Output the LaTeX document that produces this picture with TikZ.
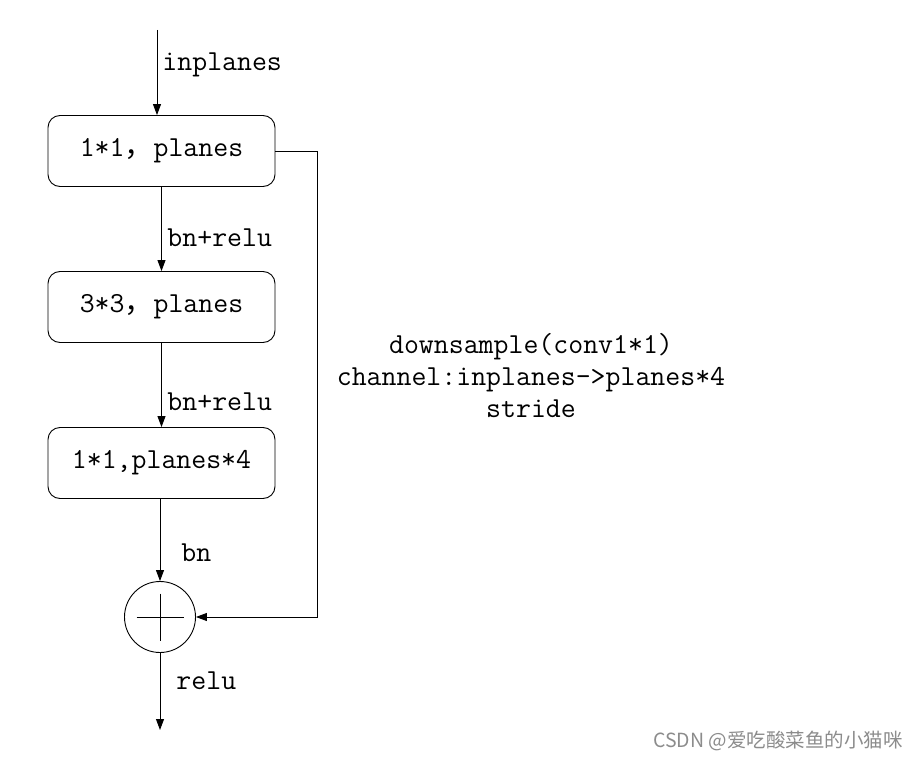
\documentclass[tikz,border=0pt]{standalone}
\usepackage{fontspec}
\newfontfamily\cjk{Noto Sans CJK SC}
\usetikzlibrary{arrows.meta}
\tikzset{
  block/.style={draw, rounded corners=12pt, minimum width=227pt, minimum height=71pt,
    inner sep=0pt, font=\fontsize{29}{32}\selectfont\ttfamily},
  lbl/.style={anchor=west, inner sep=0pt, font=\fontsize{29}{32}\selectfont\ttfamily},
  flow/.style={-{Triangle[length=11pt,width=8pt]}}
}

\begin{document}
\begin{tikzpicture}[x=1pt, y=-1pt, line width=0.9pt]
                \useasboundingbox (0,0) rectangle (919,760);

                % Blocks of the bottleneck
                \node[block] (conv1) at (161.5,151) {1*1{\cjk ，}planes};
                \node[block] (conv2) at (161.5,307) {3*3{\cjk ，}planes};
                \node[block] (conv3) at (161.5,463) {1*1,planes*4};

                % Sum node
                \node[draw, circle, minimum size=71pt, inner sep=0pt] (sum) at (160,617) {};
                \draw (sum.center) +(-23.5,0) -- +(23.5,0);
                \draw (sum.center) +(0,-23.5) -- +(0,23.5);

                % Input and output ends
                \coordinate (in) at (157,30);
                \coordinate (out) at (160,730);

                % Main path
                \draw[flow] (in) -- (in |- conv1.north);
                \draw[flow] (conv1) -- (conv2);
                \draw[flow] (conv2) -- (conv3);
                \draw[flow] (conv3.south -| sum) -- (sum.north);
                \draw[flow] (sum.south) -- (out);

                % Shortcut
                \draw[flow] (conv1.east) -- ++(42,0) |- (sum.east);

                % Labels
                \node[lbl] (l-in) at (162,65) {inplanes};
                \node[lbl] (l-bn1) at (167,238) {bn+relu};
                \node[lbl] (l-bn2) at (167,402) {bn+relu};
                \node[lbl] (l-bn3) at (181,553) {bn};
                \node[lbl] (l-relu) at (176,681) {relu};
                \node[align=center, font=\fontsize{29}{32}\selectfont\ttfamily] (down) at (531,376)
                    {downsample(conv1*1)\\channel:inplanes->planes*4\\stride};

                % Watermark
                \node[anchor=east, inner sep=0pt, text=black!45, font=\cjk\fontsize{19.5}{21}\selectfont] (mark) at (903,741) {CSDN @爱吃酸菜鱼的小猫咪};
            \end{tikzpicture}
\end{document}
